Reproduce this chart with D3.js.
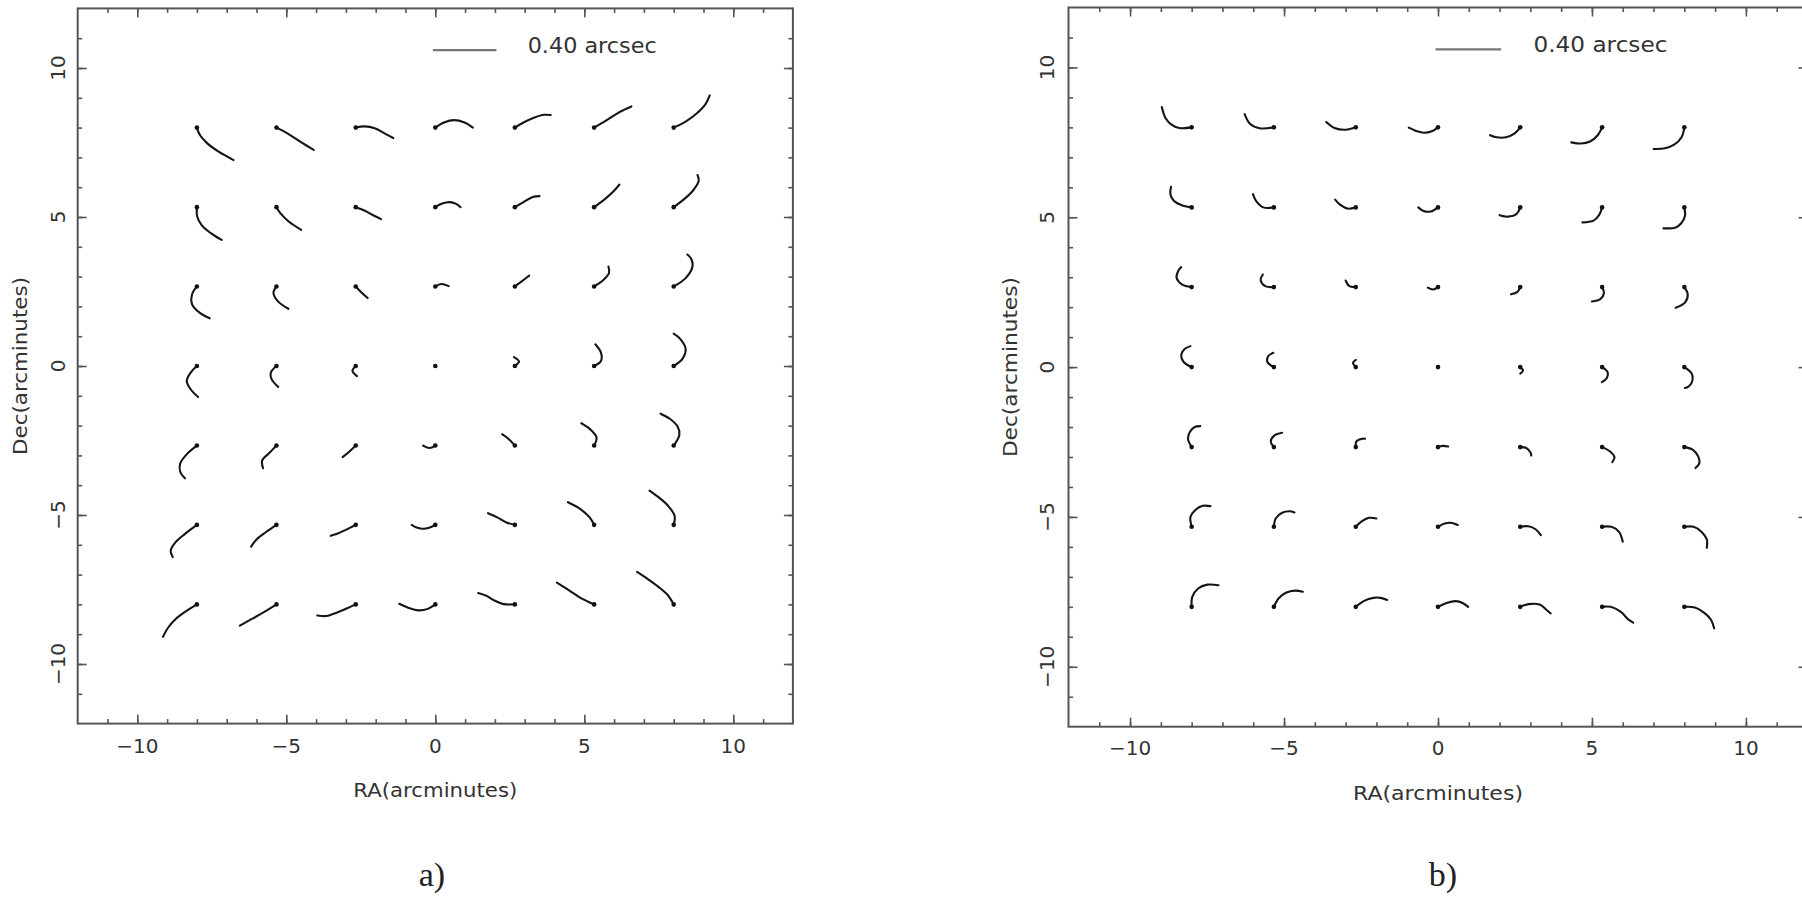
<!DOCTYPE html>
<html><head><meta charset="utf-8">
<script src="https://cdn.jsdelivr.net/npm/d3@7"></script>
<style>
html,body{margin:0;padding:0;background:#fff;}
svg{display:block;}
</style></head>
<body>
<svg id="chart" width="1802" height="897"></svg>
<script>
// ---------------- DATA ----------------
const starRA  = [-8, -5.33, -2.67, 0, 2.67, 5.33, 8];
const starDec = [8, 5.33, 2.67, 0, -2.67, -5.33, -8];
const majorTicks = [-10, -5, 0, 5, 10];
const minorTicks = [-11,-10,-9,-8,-7,-6,-5,-4,-3,-2,-1,0,1,2,3,4,5,6,7,8,9,10,11];
const tickLabels = ["\u221210", "\u22125", "0", "5", "10"];
const xTitle = "RA(arcminutes)";
const yTitle = "Dec(arcminutes)";
const scaleLabel = "0.40 arcsec";
const panelLabels = ["a)", "b)"];

// track offsets (arcmin plotting units) from each star, rows = starDec, cols = starRA
const tracksA = [
 [[[0,0],[0.10,-0.25],[0.35,-0.53],[0.73,-0.81],[1.23,-1.09]],
  [[0,0],[0.38,-0.20],[0.81,-0.48],[1.25,-0.75]],
  [[0,0],[0.29,0.04],[0.66,-0.03],[0.98,-0.20],[1.26,-0.35]],
  [[0,0],[0.29,0.17],[0.63,0.25],[0.98,0.17],[1.26,0]],
  [[0,0],[0.29,0.17],[0.66,0.34],[0.98,0.43],[1.20,0.42]],
  [[0,0],[0.41,0.24],[0.85,0.52],[1.25,0.71]],
  [[0,0],[0.40,0.20],[0.78,0.48],[1.05,0.76],[1.21,1.08]]],
 [[[0,0],[0.01,-0.31],[0.16,-0.60],[0.48,-0.88],[0.83,-1.10]],
  [[0,0],[0.13,-0.20],[0.41,-0.48],[0.83,-0.76]],
  [[0,0],[0.29,-0.11],[0.60,-0.28],[0.85,-0.40]],
  [[0,0],[0.23,0.12],[0.48,0.17],[0.70,0.11],[0.85,0]],
  [[0,0],[0.29,0.17],[0.60,0.34],[0.83,0.37]],
  [[0,0],[0.35,0.26],[0.66,0.54],[0.85,0.76]],
  [[0,0],[0.34,0.26],[0.65,0.56],[0.84,0.88],[0.80,1.08]]],
 [[[0,0],[-0.16,-0.26],[-0.16,-0.60],[0.09,-0.88],[0.43,-1.07]],
  [[0,0],[-0.10,-0.22],[0.06,-0.51],[0.40,-0.75]],
  [[0,0],[0.21,-0.22],[0.40,-0.39]],
  [[0,0],[0.20,0.08],[0.45,0.01]],
  [[0,0],[0.23,0.17],[0.48,0.36]],
  [[0,0],[0.29,0.20],[0.50,0.45],[0.48,0.67]],
  [[0,0],[0.40,0.28],[0.63,0.67],[0.59,0.92],[0.46,1.07]]],
 [[[0,0],[-0.21,-0.22],[-0.34,-0.50],[-0.21,-0.78],[0.04,-1.04]],
  [[0,0],[-0.19,-0.22],[-0.16,-0.45],[0.06,-0.70]],
  [[0,0],[-0.11,-0.16],[0.04,-0.34]],
  [[0,0],[0.03,-0.02]],
  [[0,0],[0.14,0.15],[-0.03,0.30]],
  [[0,0],[0.23,0.17],[0.23,0.45],[0.04,0.73]],
  [[0,0],[0.30,0.25],[0.40,0.58],[0.21,0.92],[0,1.09]]],
 [[[0,0],[-0.31,-0.26],[-0.56,-0.60],[-0.56,-0.88],[-0.40,-1.10]],
  [[0,0],[-0.25,-0.26],[-0.48,-0.50],[-0.45,-0.76]],
  [[0,0],[-0.21,-0.20],[-0.44,-0.39]],
  [[0,0],[-0.19,-0.08],[-0.41,0]],
  [[0,0],[-0.21,0.22],[-0.43,0.38]],
  [[0,0],[0.08,0.27],[-0.15,0.56],[-0.43,0.75]],
  [[0,0],[0.19,0.36],[0.13,0.64],[-0.13,0.90],[-0.44,1.07]]],
 [[[0,0],[-0.41,-0.31],[-0.73,-0.60],[-0.88,-0.88],[-0.81,-1.08]],
  [[0,0],[-0.35,-0.24],[-0.66,-0.48],[-0.85,-0.73]],
  [[0,0],[-0.34,-0.17],[-0.65,-0.31],[-0.84,-0.37]],
  [[0,0],[-0.21,-0.10],[-0.44,-0.13],[-0.65,-0.08],[-0.79,0]],
  [[0,0],[-0.28,0.08],[-0.59,0.25],[-0.90,0.39]],
  [[0,0],[-0.15,0.25],[-0.46,0.53],[-0.88,0.76]],
  [[0,0],[0.03,0.30],[-0.19,0.64],[-0.50,0.92],[-0.81,1.15]]],
 [[[0,0],[-0.35,-0.22],[-0.72,-0.50],[-0.98,-0.80],[-1.14,-1.09]],
  [[0,0],[-0.35,-0.22],[-0.79,-0.47],[-1.23,-0.71]],
  [[0,0],[-0.38,-0.17],[-0.81,-0.34],[-1.00,-0.39],[-1.29,-0.37]],
  [[0,0],[-0.25,-0.15],[-0.56,-0.20],[-0.91,-0.11],[-1.21,0.02]],
  [[0,0],[-0.38,0.01],[-0.69,0.13],[-0.94,0.28],[-1.23,0.38]],
  [[0,0],[-0.46,0.22],[-0.84,0.47],[-1.25,0.73]],
  [[0,0],[-0.19,0.30],[-0.50,0.58],[-0.88,0.86],[-1.23,1.09]]]
];

const tracksB = [
 [[[0,0],[-0.40,-0.02],[-0.68,0.11],[-0.85,0.31],[-0.97,0.68]],
  [[0,0],[-0.46,-0.03],[-0.77,0.11],[-0.95,0.44]],
  [[0,0],[-0.33,-0.08],[-0.69,-0.02],[-0.96,0.18]],
  [[0,0],[-0.18,-0.12],[-0.46,-0.18],[-0.73,-0.11],[-0.95,-0.01]],
  [[0,0],[-0.18,-0.20],[-0.46,-0.33],[-0.77,-0.33],[-0.98,-0.26]],
  [[0,0],[-0.15,-0.27],[-0.39,-0.47],[-0.69,-0.54],[-1.0,-0.50]],
  [[0,0],[-0.09,-0.33],[-0.33,-0.58],[-0.63,-0.70],[-1.0,-0.72]]],
 [[[0,0],[-0.30,0.06],[-0.58,0.22],[-0.69,0.44],[-0.67,0.69]],
  [[0,0],[-0.34,0],[-0.58,0.22],[-0.68,0.44]],
  [[0,0],[-0.27,-0.04],[-0.51,0.09],[-0.67,0.26]],
  [[0,0],[-0.24,-0.14],[-0.49,-0.11],[-0.64,0]],
  [[0,0],[-0.12,-0.22],[-0.40,-0.31],[-0.67,-0.26]],
  [[0,0],[-0.10,-0.26],[-0.28,-0.44],[-0.64,-0.50]],
  [[0,0],[0.02,-0.29],[-0.10,-0.53],[-0.28,-0.67],[-0.68,-0.70]]],
 [[[0,0],[-0.32,0.09],[-0.49,0.31],[-0.44,0.53],[-0.34,0.67]],
  [[0,0],[-0.28,0.03],[-0.43,0.23],[-0.36,0.42]],
  [[0,0],[-0.21,0.03],[-0.33,0.22]],
  [[0,0],[-0.16,-0.08],[-0.33,-0.02]],
  [[0,0],[-0.10,-0.17],[-0.30,-0.24]],
  [[0,0],[0.06,-0.20],[-0.06,-0.40],[-0.33,-0.48]],
  [[0,0],[0.11,-0.24],[0.02,-0.52],[-0.28,-0.69]]],
 [[[0,0],[-0.26,0.17],[-0.34,0.41],[-0.22,0.61],[-0.04,0.70]],
  [[0,0],[-0.21,0.17],[-0.18,0.37],[-0.02,0.48]],
  [[0,0],[-0.09,0.14],[0,0.24]],
  [[0,0],[0.03,0.02]],
  [[0,0],[0.09,-0.11],[0,-0.22]],
  [[0,0],[0.18,-0.17],[0.15,-0.37],[-0.01,-0.50]],
  [[0,0],[0.23,-0.20],[0.27,-0.42],[0.15,-0.64],[0.02,-0.70]]],
 [[[0,0],[-0.12,0.28],[-0.05,0.52],[0.10,0.67],[0.28,0.70]],
  [[0,0],[-0.10,0.19],[0.02,0.39],[0.27,0.48]],
  [[0,0],[0.02,0.19],[0.21,0.28],[0.30,0.28]],
  [[0,0],[0.15,0.04],[0.33,0.02]],
  [[0,0],[0.18,-0.02],[0.33,-0.17],[0.36,-0.28]],
  [[0,0],[0.24,-0.13],[0.40,-0.33],[0.33,-0.50]],
  [[0,0],[0.28,-0.09],[0.45,-0.31],[0.49,-0.53],[0.36,-0.70]]],
 [[[0,0],[-0.04,0.33],[0.12,0.56],[0.36,0.70],[0.61,0.69]],
  [[0,0],[0.06,0.28],[0.27,0.47],[0.51,0.52],[0.67,0.48]],
  [[0,0],[0.18,0.17],[0.43,0.30],[0.67,0.28]],
  [[0,0],[0.22,0.11],[0.46,0.13],[0.64,0.06]],
  [[0,0],[0.27,0.02],[0.51,-0.09],[0.67,-0.28]],
  [[0,0],[0.30,0],[0.55,-0.17],[0.67,-0.50]],
  [[0,0],[0.30,0],[0.57,-0.18],[0.73,-0.42],[0.73,-0.70]]],
 [[[0,0],[0.02,0.33],[0.21,0.61],[0.51,0.74],[0.87,0.72]],
  [[0,0],[0.15,0.28],[0.39,0.47],[0.69,0.54],[0.94,0.50]],
  [[0,0],[0.27,0.20],[0.57,0.30],[0.81,0.30],[1.02,0.23]],
  [[0,0],[0.28,0.13],[0.58,0.19],[0.80,0.13],[0.98,0]],
  [[0,0],[0.27,0.09],[0.63,0.08],[0.84,-0.09],[0.99,-0.22]],
  [[0,0],[0.28,0],[0.61,-0.17],[0.85,-0.42],[1.01,-0.53]],
  [[0,0],[0.34,-0.02],[0.67,-0.22],[0.87,-0.44],[0.97,-0.72]]]
];

// scale-bar (legend) in data units: from x0 to x1 at y, label starts at xt
const scaleBar = {x0: -0.08, x1: 2.05, y: 10.6, xt: 3.1};

// ---------------- DRAW ----------------
const svg = d3.select("#chart");
const FONT = "'DejaVu Sans', 'Liberation Sans', sans-serif";
const AX = "#555", TX = "#333";

function drawPanel(cfg) {
  const x = d3.scaleLinear().domain([-12, 12]).range(cfg.xr);
  const y = d3.scaleLinear().domain([-12, 12]).range(cfg.yr);
  const g = svg.append("g");
  const [xl, xh] = cfg.xr, [yb, yt] = cfg.yr;

  // tick marks (inward) on all four sides
  const mk = (axisFn, scale, vals, size, tr) => {
    const a = g.append("g").attr("transform", tr)
      .call(axisFn(scale).tickValues(vals).tickSize(size).tickSizeOuter(0).tickFormat(""));
    a.select(".domain").remove();
    a.selectAll("line").attr("stroke", AX).attr("stroke-width", 1.6);
  };
  mk(d3.axisBottom, x, minorTicks, -4.5, `translate(0,${yb})`);
  mk(d3.axisBottom, x, majorTicks, -9, `translate(0,${yb})`);
  mk(d3.axisTop, x, minorTicks, -4.5, `translate(0,${yt})`);
  mk(d3.axisTop, x, majorTicks, -9, `translate(0,${yt})`);
  mk(d3.axisLeft, y, minorTicks, -4.5, `translate(${xl},0)`);
  mk(d3.axisLeft, y, majorTicks, -9, `translate(${xl},0)`);
  mk(d3.axisRight, y, minorTicks, -4.5, `translate(${xh},0)`);
  mk(d3.axisRight, y, majorTicks, -9, `translate(${xh},0)`);

  // frame
  g.append("rect").attr("x", xl).attr("y", yt).attr("width", xh - xl).attr("height", yb - yt)
    .attr("fill", "none").attr("stroke", AX).attr("stroke-width", 2);

  // x tick labels
  g.selectAll(".xl").data(majorTicks).enter().append("text")
    .attr("x", d => x(d)).attr("y", cfg.xLabBase)
    .attr("text-anchor", "middle").attr("font-family", FONT).attr("font-size", 20).attr("fill", TX)
    .text((d, i) => tickLabels[i]);
  // y tick labels (rotated)
  g.selectAll(".yl").data(majorTicks).enter().append("text")
    .attr("transform", d => `translate(${cfg.yLabBase},${y(d)}) rotate(-90)`)
    .attr("text-anchor", "middle").attr("font-family", FONT).attr("font-size", 20).attr("fill", TX)
    .text((d, i) => tickLabels[i]);

  // axis titles
  g.append("text").attr("x", x(0)).attr("y", cfg.xTitleBase)
    .attr("text-anchor", "middle").attr("font-family", FONT).attr("font-size", 20).attr("fill", TX)
    .attr("textLength", cfg.xTitleLen).attr("lengthAdjust", "spacingAndGlyphs")
    .text(xTitle);
  g.append("text").attr("transform", `translate(${cfg.yTitleBase},${y(0)}) rotate(-90)`)
    .attr("text-anchor", "middle").attr("font-family", FONT).attr("font-size", 20).attr("fill", TX)
    .attr("textLength", cfg.yTitleLen).attr("lengthAdjust", "spacingAndGlyphs")
    .text(yTitle);

  // scale bar legend
  g.append("line").attr("x1", x(scaleBar.x0)).attr("x2", x(scaleBar.x1))
    .attr("y1", y(scaleBar.y)).attr("y2", y(scaleBar.y))
    .attr("stroke", "#777").attr("stroke-width", 2.2);
  g.append("text").attr("x", x(scaleBar.xt)).attr("y", cfg.legBase)
    .attr("font-family", FONT).attr("font-size", 22).attr("fill", TX)
    .attr("textLength", cfg.legLen).attr("lengthAdjust", "spacingAndGlyphs")
    .text(scaleLabel);

  // tracks
  const line = d3.line().curve(d3.curveCatmullRom.alpha(0.5));
  const items = [];
  cfg.tracks.forEach((row, r) => row.forEach((tr, c) => {
    items.push({ra: starRA[c], dec: starDec[r], pts: tr});
  }));
  g.selectAll(".trk").data(items).enter().append("path")
    .attr("d", d => line(d.pts.map(p => [x(d.ra + p[0]), y(d.dec + p[1])])))
    .attr("fill", "none").attr("stroke", "#151515").attr("stroke-width", 2.1)
    .attr("stroke-linecap", "round").attr("stroke-linejoin", "round");
  g.selectAll(".dot").data(items).enter().append("circle")
    .attr("cx", d => x(d.ra)).attr("cy", d => y(d.dec)).attr("r", 2.3).attr("fill", "#111");

  // panel label
  svg.append("text").attr("x", cfg.panelX).attr("y", 886)
    .attr("text-anchor", "middle").attr("font-family", "'Liberation Serif', 'DejaVu Serif', serif")
    .attr("font-size", 34).attr("fill", "#222").text(cfg.panelLabel);
}

drawPanel({
  xr: [77.7, 792.9], yr: [723.6, 8.4], tracks: tracksA,
  xLabBase: 753, yLabBase: 64.5, xTitleBase: 797, yTitleBase: 27,
  xTitleLen: 164, yTitleLen: 178, legBase: 53, legLen: 129,
  panelX: 432, panelLabel: panelLabels[0]
});
drawPanel({
  xr: [1068.5, 1807.5], yr: [726.7, 7.5], tracks: tracksB,
  xLabBase: 755, yLabBase: 1054, xTitleBase: 800, yTitleBase: 1017,
  xTitleLen: 170, yTitleLen: 180, legBase: 51.5, legLen: 134,
  panelX: 1443, panelLabel: panelLabels[1]
});
</script>
</body></html>
